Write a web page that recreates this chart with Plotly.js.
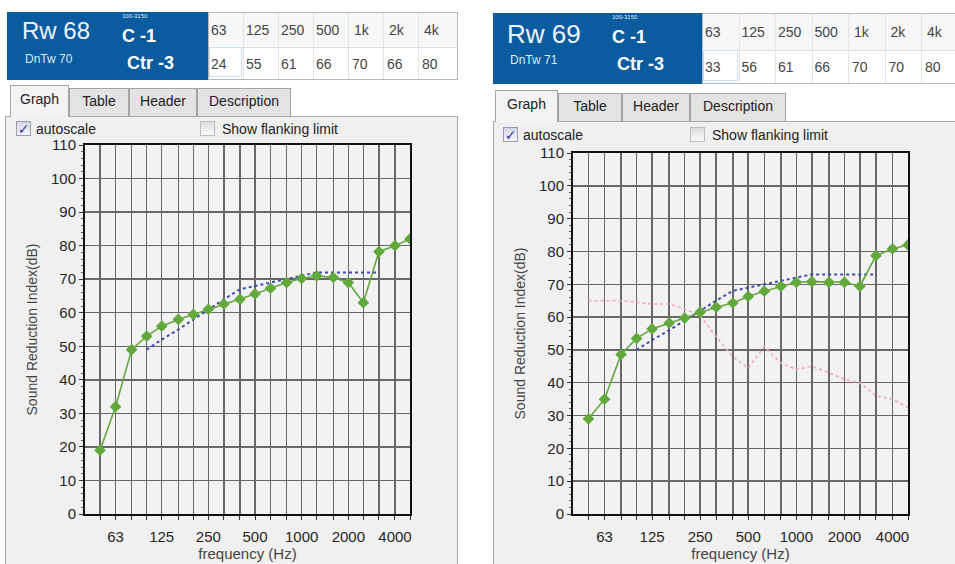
<!DOCTYPE html>
<html><head><meta charset="utf-8">
<script src="https://cdn.plot.ly/plotly-3.0.1.min.js"></script>
<style>
body{margin:0;width:955px;height:564px;overflow:hidden;background:#fff;position:relative;font-family:"Liberation Sans",Arial,sans-serif;}
.a{position:absolute;white-space:nowrap;}
.hdr{background:#0b5c9e;color:#fff;}
.tbl{background:#fff;border:1px solid #b8b8b8;box-sizing:border-box;}
.cell{position:absolute;font-size:14px;color:#454545;line-height:16px;}
.tab{position:absolute;box-sizing:border-box;border:1px solid #a4a4a4;border-bottom:none;background:#e3e3e3;font-size:14px;color:#222;text-align:center;}
.tab.on{background:#f3f3f3;}
.panel{position:absolute;box-sizing:border-box;border:1px solid #a8a8a8;background:#f0f0f0;}
.chk{position:absolute;width:15px;height:15px;box-sizing:border-box;border:1px solid #9a9aae;background:linear-gradient(#d6d6e6,#f4f4fa);font-size:14px;line-height:14px;color:#3c3ca0;text-align:center;font-family:"DejaVu Sans",sans-serif;}
.chk.off{border-color:#bdbdbd;background:linear-gradient(#dcdcdc,#fafafa);}
.lbl{position:absolute;font-size:14px;color:#222;line-height:16px;}
</style></head><body>
<div id="root"></div>
<script>
// ---- data ----
const bands = [50,63,80,100,125,160,200,250,315,400,500,630,800,1000,1250,1600,2000,2500,3150,4000,5000];
const bandLabels = ["","63","","","125","","","250","","","500","","","1000","","","2000","","","4000",""];
const refBands = [100,125,160,200,250,315,400,500,630,800,1000,1250,1600,2000,2500,3150];

const leftMeasured = [19,32,49,53,56,58,59.5,61,62.6,64,65.6,67.3,69,70.2,71,70.5,69,63,78.2,80,82];
const leftReference = [49,52,55,58,61,64,67,68,69,70,71,72,72,72,72,72];

const rightMeasured = [29,35,48.6,53.5,56.4,58.2,59.7,61.5,63,64.3,66.3,67.9,69.4,70.6,70.8,70.6,70.6,69.4,78.7,80.8,82];
const rightReference = [50,53,56,59,62,65,68,69,70,71,72,73,73,73,73,73];
const rightFlanking = [65,65,65,64.5,64,64,62.5,60.5,54,48,44.5,51,46,44,45,43,41,40,36,35,32.5];

const octaveLabels = ["63","125","250","500","1k","2k","4k"];
const leftOctave = [24,55,61,66,70,66,80];
const rightOctave = [33,56,61,66,70,70,80];

const leftHeader = {rw:"Rw 68", dntw:"DnTw 70", range:"100-3150", c:"C -1", ctr:"Ctr -3"};
const rightHeader = {rw:"Rw 69", dntw:"DnTw 71", range:"100-3150", c:"C -1", ctr:"Ctr -3"};
const tabNames = ["Graph","Table","Header","Description"];

// ---- UI ----
const root = document.getElementById('root');
function el(cls, css, html){const d=document.createElement('div');d.className=cls;Object.assign(d.style,css);if(html!==undefined)d.innerHTML=html;root.appendChild(d);return d;}
function px(v){return v+'px';}

function buildPanel(P){
  el('panel',{left:px(P.panel[0]),top:px(P.panel[1]),width:px(P.panel[2]),height:px(P.panel[3])});
  const h=P.hdr;
  el('a hdr',{left:px(h[0]),top:px(h[1]),width:px(h[2]),height:px(h[3])});
  const H=P.head;
  el('a',{left:px(h[0]+P.rwX),top:px(h[1]+P.rwY),fontSize:px(P.rwSize),lineHeight:'1',color:'#eef4ff'},H.rw);
  el('a',{left:px(h[0]+P.rwX+3),top:px(h[1]+41),fontSize:'12px',lineHeight:'1',color:'#dce8f6'},H.dntw);
  el('a',{left:px(h[0]+P.cX),top:px(h[1]+1),fontSize:'6px',lineHeight:'1',color:'#dce8f6'},H.range);
  el('a',{left:px(h[0]+P.cX),top:px(h[1]+15),fontSize:'18px',fontWeight:'bold',lineHeight:'1',color:'#fff'},H.c);
  el('a',{left:px(h[0]+P.cX+5),top:px(h[1]+42),fontSize:'18px',fontWeight:'bold',lineHeight:'1',color:'#fff'},H.ctr);
  const t=P.tbl;
  el('a tbl',{left:px(t[0]),top:px(t[1]),width:px(t[2]),height:px(t[3])});
  el('a',{left:px(t[0]+1),top:px(t[1]+1),width:px(t[2]-2),height:px(P.rowH),background:'#f7f7f7',borderBottom:'1px solid #dedede'});
  for(let i=0;i<octaveLabels.length;i++){
    const x=t[0]+i*P.colW;
    if(i>0) el('a',{left:px(x),top:px(t[1]+1),width:'1px',height:px(t[3]-2),background:'#e4e4e4'});
    el('cell',{left:px(x+3+(i>=4?3:0)),top:px(t[1]+P.rowH/2-7)},octaveLabels[i]);
    el('cell',{left:px(x+3+(i>=4?1:0)),top:px(t[1]+P.rowH+10)},String(P.oct[i]));
  }
  el('a',{left:px(t[0]+1),top:px(t[1]+P.rowH+1),width:px(P.colW-2),height:px(t[3]-P.rowH-4),border:'1px solid #cfe0f0',boxSizing:'border-box'});
  for(let i=0;i<tabNames.length;i++){
    const on=i===0;
    el('tab'+(on?' on':''),{left:px(P.tabX[i]),top:px(P.tabY+(on?0:3)),width:px(P.tabX[i+1]-P.tabX[i]),height:px(P.panel[1]-P.tabY-(on?0:3)+(on?1:0)),lineHeight:px(P.panel[1]-P.tabY-(on?4:6))},tabNames[i]);
  }
  el('chk',{left:px(P.chk1X),top:px(P.chkY)},'&#10003;');
  el('lbl',{left:px(P.chk1X+20),top:px(P.chkY)},'autoscale');
  el('chk off',{left:px(P.chk2X),top:px(P.chkY)});
  el('lbl',{left:px(P.chk2X+22),top:px(P.chkY)},'Show flanking limit');
  const g=P.plot;
  const d=el('a',{left:px(g.left),top:px(g.top),width:px(g.w),height:px(g.h)});
  const traces=[];
  if(P.flank) traces.push({x:bands,y:P.flank,type:'scatter',mode:'lines',line:{color:'#f2a7b9',dash:'dot',width:1.6},hoverinfo:'skip'});
  traces.push({x:refBands,y:P.ref,type:'scatter',mode:'lines',line:{color:'#3d4caa',dash:'dot',width:2},hoverinfo:'skip'});
  traces.push({x:bands,y:P.meas,type:'scatter',mode:'lines+markers',line:{color:'#63a83d',width:1.6},marker:{symbol:'diamond',size:9,color:'#63a83d'}});
  const axFont={family:'"Liberation Sans", Arial, sans-serif',size:15,color:'#262626'};
  Plotly.newPlot(d,traces,{
    width:g.w,height:g.h,margin:{l:g.l,r:g.r,t:g.t,b:g.b},
    paper_bgcolor:'rgba(0,0,0,0)',plot_bgcolor:'#f2f2f2',showlegend:false,
    font:axFont,
    xaxis:{type:'log',range:[Math.log10(40),Math.log10(5000)],tickmode:'array',tickvals:bands,ticktext:bandLabels,
      showgrid:true,gridcolor:'#686868',gridwidth:1.5,showline:true,linecolor:'#111',linewidth:2,mirror:true,
      ticks:'outside',ticklen:4,tickcolor:'#333',tickfont:axFont,ticklabelstandoff:4,zeroline:false,
      title:{text:'frequency (Hz)',font:{size:15,color:'#444'},standoff:2}},
    yaxis:{range:[0,110],dtick:10,tickmode:'linear',tick0:0,showgrid:true,gridcolor:'#686868',gridwidth:1.5,
      showline:true,linecolor:'#111',linewidth:2,mirror:true,ticks:'outside',ticklen:4,tickcolor:'#333',
      tickfont:axFont,zeroline:false,
      minor:{ticks:'outside',ticklen:2,dtick:2,tickcolor:'#555',showgrid:false},
      title:{text:'Sound Reduction Index(dB)',font:{size:14,color:'#444'},standoff:10}}
  },{staticPlot:true,displayModeBar:false});
}

buildPanel({
  panel:[5,116,453,470], hdr:[7,12,201,68], head:leftHeader, rwX:15,rwY:7,rwSize:24, cX:115,
  tbl:[208,12,250,68], rowH:34, colW:35, oct:leftOctave,
  tabY:85, tabX:[10,69,129,197,291], chkY:121, chk1X:16, chk2X:200,
  plot:{left:0,top:120,w:460,h:444,l:85,r:50,t:25,b:50},
  meas:leftMeasured, ref:leftReference, flank:null
});
buildPanel({
  panel:[493,121,470,460], hdr:[493,13,209,71], head:rightHeader, rwX:14,rwY:8,rwSize:26, cX:119,
  tbl:[702,13,262,71], rowH:36, colW:36.5, oct:rightOctave,
  tabY:90, tabX:[495,558,622,690,786], chkY:127, chk1X:503, chk2X:690,
  plot:{left:490,top:125,w:465,h:439,l:83,r:47,t:28,b:50},
  meas:rightMeasured, ref:rightReference, flank:rightFlanking
});
</script>
</body></html>
